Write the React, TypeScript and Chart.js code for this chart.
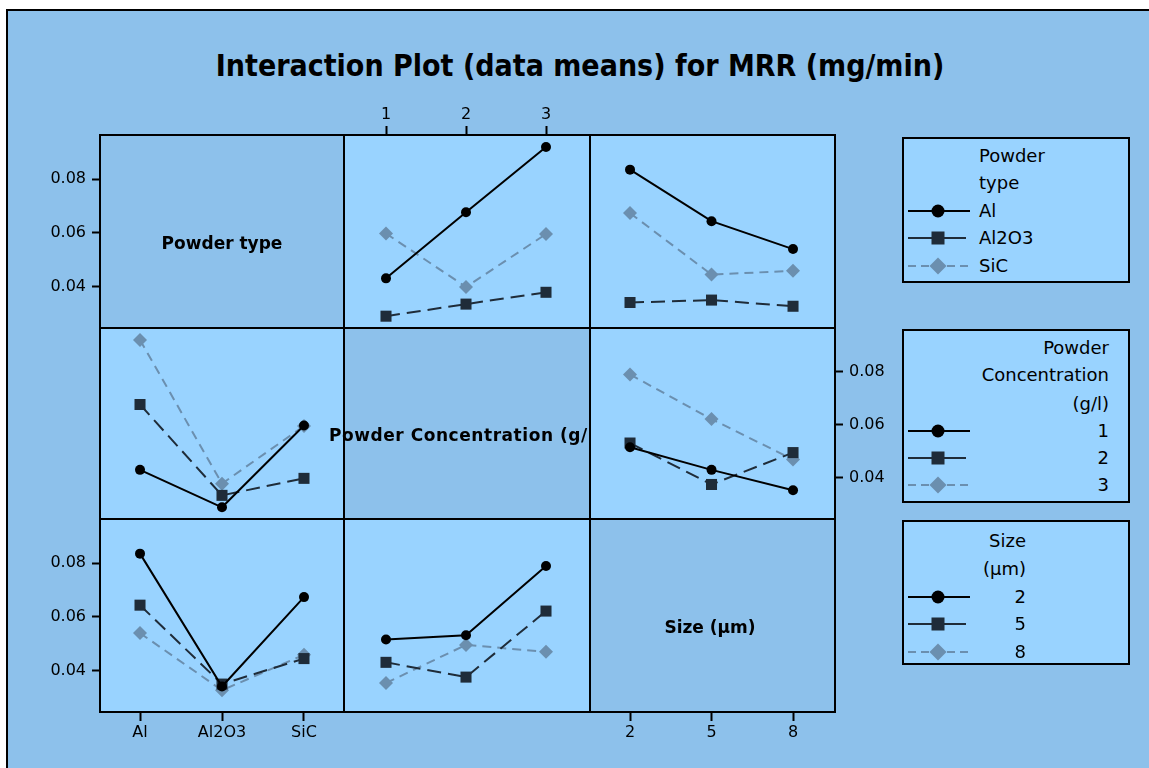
import React, { useEffect, useRef } from 'react';
import { Chart, registerables } from 'chart.js';

Chart.register(...registerables);

// ---------------- data ----------------
const powderTypes = ['Al', 'Al2O3', 'SiC'];
const concentrations = ['1', '2', '3'];
const sizes = ['2', '5', '8'];

const yTickValues = [0.04, 0.06, 0.08];
const yTickLabels = ['0.04', '0.06', '0.08'];
const yMin = 0.0245;
const yMax = 0.0964;

// mean MRR: powder type x concentration (1, 2, 3 g/l)
const alByConc = [0.043, 0.0676, 0.0919];
const al2o3ByConc = [0.0289, 0.0334, 0.0378];
const sicByConc = [0.0597, 0.0398, 0.0595];

// mean MRR: powder type x size (2, 5, 8 µm)
const alBySize = [0.0835, 0.0643, 0.0539];
const al2o3BySize = [0.034, 0.0349, 0.0326];
const sicBySize = [0.0673, 0.0444, 0.0458];

// mean MRR: concentration x size (2, 5, 8 µm)
const conc1BySize = [0.0515, 0.043, 0.0353];
const conc2BySize = [0.0531, 0.0375, 0.0495];
const conc3BySize = [0.0789, 0.0621, 0.0469];

const factorNames = ['Powder type', 'Powder Concentration (g/l)', 'Size (µm)'];
const titleText = 'Interaction Plot (data means) for MRR (mg/min)';

// derived tables (transposes)
const col = (rows: number[][], j: number) => rows.map((r) => r[j]);
const typeConc = [alByConc, al2o3ByConc, sicByConc];
const typeSize = [alBySize, al2o3BySize, sicBySize];
const concSize = [conc1BySize, conc2BySize, conc3BySize];
const concByType = [0, 1, 2].map((j) => col(typeConc, j));
const sizeByType = [0, 1, 2].map((j) => col(typeSize, j));
const sizeByConc = [0, 1, 2].map((j) => col(concSize, j));

// ---------------- styles ----------------
const FONT = '"DejaVu Sans", Verdana, sans-serif';
const TITLE_FONT = '"DejaVu Sans Condensed", "DejaVu Sans", Verdana, sans-serif';
const BG = '#8DC1EB';
const PANEL = '#99D3FF';
const seriesStyle = [
  { color: '#000000', dash: [] as number[], pointStyle: 'circle', radius: 5 },
  { color: '#1F2C39', dash: [14, 7], pointStyle: 'rect', radius: 7.8 },
  { color: '#6B8FAF', dash: [9, 6], pointStyle: 'rectRot', radius: 7 },
];

const GX = [100, 344, 590, 835];
const GY = [135, 328, 519, 712];
// x-range (in level-index units) of each panel column
const colRange = [
  [-0.488, 2.488],
  [-0.525, 2.55],
  [-0.491, 2.515],
];
const AXW = 60;
const TOPH = 33;
const BOTH = 40;

type PanelDef = {
  key: string;
  r: number;
  c: number;
  labels: string[];
  series: number[][];
  x?: 'top' | 'bottom';
  y?: 'left' | 'right';
};

const panels: PanelDef[] = [
  { key: 'r1c1', r: 0, c: 0, labels: concentrations, series: [], y: 'left' },
  { key: 'r1c2', r: 0, c: 1, labels: concentrations, series: typeConc, x: 'top' },
  { key: 'r1c3', r: 0, c: 2, labels: sizes, series: typeSize },
  { key: 'r2c1', r: 1, c: 0, labels: powderTypes, series: concByType },
  { key: 'r2c3', r: 1, c: 2, labels: sizes, series: concSize, y: 'right' },
  { key: 'r3c1', r: 2, c: 0, labels: powderTypes, series: sizeByType, y: 'left', x: 'bottom' },
  { key: 'r3c2', r: 2, c: 1, labels: concentrations, series: sizeByConc },
  { key: 'r3c3', r: 2, c: 2, labels: sizes, series: [], x: 'bottom' },
];

function PanelChart({ p }: { p: PanelDef }) {
  const ref = useRef<HTMLCanvasElement>(null);
  const left = GX[p.c] - (p.y === 'left' ? AXW : 0);
  const top = GY[p.r] - (p.x === 'top' ? TOPH : 0);
  const width = GX[p.c + 1] - GX[p.c] + (p.y ? AXW : 0);
  const height = GY[p.r + 1] - GY[p.r] + (p.x === 'top' ? TOPH : p.x === 'bottom' ? BOTH : 0);

  useEffect(() => {
    const canvas = ref.current;
    if (!canvas) return;
    const tickFont = { family: FONT, size: 16 };
    const chart = new Chart(canvas, {
      type: 'line',
      data: {
        datasets: p.series.map((d, i) => ({
          data: d.map((v, j) => ({ x: j, y: v })),
          borderColor: seriesStyle[i].color,
          backgroundColor: seriesStyle[i].color,
          borderDash: seriesStyle[i].dash,
          borderWidth: 2,
          pointStyle: seriesStyle[i].pointStyle as any,
          pointRadius: seriesStyle[i].radius,
          pointBackgroundColor: seriesStyle[i].color,
          pointBorderColor: seriesStyle[i].color,
          pointBorderWidth: 0,
          tension: 0,
          fill: false,
          clip: false,
        })),
      },
      options: {
        responsive: false,
        animation: false,
        events: [],
        layout: { padding: 0, autoPadding: false },
        plugins: {
          legend: { display: false },
          tooltip: { enabled: false },
          title: { display: false },
        },
        scales: {
          x: {
            type: 'linear',
            min: colRange[p.c][0],
            max: colRange[p.c][1],
            display: !!p.x,
            position: p.x || 'bottom',
            afterBuildTicks: (s: any) => {
              s.ticks = p.labels.map((_l, j) => ({ value: j }));
            },
            afterFit: (s: any) => {
              if (!p.x) return;
              s.height = p.x === 'top' ? TOPH : BOTH;
              s.paddingLeft = 0;
              s.paddingRight = 0;
            },
            ticks: {
              autoSkip: false,
              maxRotation: 0,
              minRotation: 0,
              padding: 2,
              color: '#000',
              font: tickFont,
              callback: (_v: any, i: number) => p.labels[i],
            },
            grid: {
              display: true,
              drawOnChartArea: false,
              drawTicks: true,
              tickLength: 9,
              tickWidth: 2,
              tickColor: '#000',
              color: '#000',
            },
            border: { display: false },
          },
          y: {
            type: 'linear',
            min: yMin,
            max: yMax,
            display: !!p.y,
            position: p.y || 'left',
            afterBuildTicks: (s: any) => {
              s.ticks = yTickValues.map((v) => ({ value: v }));
            },
            afterFit: (s: any) => {
              if (!p.y) return;
              s.width = AXW;
              s.paddingTop = 0;
              s.paddingBottom = 0;
            },
            ticks: {
              autoSkip: false,
              padding: 6,
              color: '#000',
              font: tickFont,
              callback: (_v: any, i: number) => yTickLabels[i],
            },
            grid: {
              display: true,
              drawOnChartArea: false,
              drawTicks: true,
              tickLength: 8,
              tickWidth: 2,
              tickColor: '#000',
              color: '#000',
            },
            border: { display: false },
          },
        },
      } as any,
    });
    return () => chart.destroy();
  }, []);

  return (
    <canvas
      ref={ref}
      width={width}
      height={height}
      style={{ position: 'absolute', left, top, width, height }}
    />
  );
}

function Txt(props: {
  x: number;
  y: number;
  align?: 'left' | 'center' | 'right';
  bold?: boolean;
  size: number;
  ls?: number;
  family?: string;
  children: React.ReactNode;
}) {
  const { x, y, align = 'left', bold, size, ls, family, children } = props;
  const tx = align === 'center' ? '-50%' : align === 'right' ? '-100%' : '0';
  return (
    <div
      style={{
        position: 'absolute',
        left: x,
        top: y,
        transform: `translate(${tx},-50%)`,
        whiteSpace: 'nowrap',
        font: `${bold ? 'bold ' : ''}${size}px ${family || FONT}`,
        lineHeight: 1,
        color: '#000',
        letterSpacing: ls ? `${ls}px` : undefined,
      }}
    >
      {children}
    </div>
  );
}

function LegendSymbol({ idx, cy }: { idx: number; cy: number }) {
  const s = seriesStyle[idx];
  let marker: React.ReactNode;
  if (s.pointStyle === 'circle') marker = <circle cx={34} cy={10} r={6.5} fill={s.color} />;
  else if (s.pointStyle === 'rect') marker = <rect x={27.5} y={3.5} width={13} height={13} fill={s.color} />;
  else marker = <polygon points="34,1.5 42.5,10 34,18.5 25.5,10" fill={s.color} />;
  return (
    <svg width={70} height={20} style={{ position: 'absolute', left: 904, top: cy - 10 }}>
      <line
        x1={4}
        y1={10}
        x2={idx === 1 ? 62 : 66}
        y2={10}
        stroke={s.color}
        strokeWidth={2}
        strokeDasharray={idx === 2 ? '8 5' : undefined}
      />
      {marker}
    </svg>
  );
}

function LegendBox(props: {
  top: number;
  height: number;
  titleLines: string[];
  titleYs: number[];
  items: string[];
  itemYs: number[];
  textX: number;
  align: 'left' | 'right';
}) {
  const { top, height, titleLines, titleYs, items, itemYs, textX, align } = props;
  return (
    <>
      <div
        style={{
          position: 'absolute',
          left: 902,
          top,
          width: 228,
          height,
          boxSizing: 'border-box',
          border: '2px solid #000',
          background: PANEL,
        }}
      />
      {titleLines.map((t, i) => (
        <Txt key={'t' + i} x={textX} y={titleYs[i]} align={align} size={18}>
          {t}
        </Txt>
      ))}
      {items.map((t, i) => (
        <React.Fragment key={'i' + i}>
          <LegendSymbol idx={i} cy={itemYs[i]} />
          <Txt x={textX} y={itemYs[i]} align={align} size={18}>
            {t}
          </Txt>
        </React.Fragment>
      ))}
    </>
  );
}

export default function App() {
  const cells: React.ReactNode[] = [];
  for (let r = 0; r < 3; r++) {
    for (let c = 0; c < 3; c++) {
      cells.push(
        <div
          key={`cell${r}${c}`}
          style={{
            position: 'absolute',
            left: GX[c],
            top: GY[r],
            width: GX[c + 1] - GX[c],
            height: GY[r + 1] - GY[r],
            background: r === c ? BG : PANEL,
          }}
        />
      );
    }
  }
  const lines: React.ReactNode[] = [];
  GX.forEach((x, i) =>
    lines.push(
      <div
        key={'vx' + i}
        style={{ position: 'absolute', left: x - 1, top: GY[0] - 1, width: 2, height: GY[3] - GY[0] + 2, background: '#000' }}
      />
    )
  );
  GY.forEach((y, i) =>
    lines.push(
      <div
        key={'hy' + i}
        style={{ position: 'absolute', left: GX[0] - 1, top: y - 1, width: GX[3] - GX[0] + 2, height: 2, background: '#000' }}
      />
    )
  );

  return (
    <div
      style={{
        position: 'fixed',
        left: 0,
        top: 0,
        width: 1149,
        height: 768,
        background: '#fff',
        overflow: 'hidden',
      }}
    >
      <div
        style={{
          position: 'absolute',
          left: 6,
          top: 9,
          width: 1160,
          height: 780,
          background: BG,
          borderLeft: '2px solid #000',
          borderTop: '2px solid #000',
        }}
      />
      <Txt x={580} y={66} align="center" bold size={30} family={TITLE_FONT}>
        {titleText}
      </Txt>
      {cells}
      {panels.map((p) => (
        <PanelChart key={p.key} p={p} />
      ))}
      <Txt x={222} y={243} align="center" bold size={17}>
        {factorNames[0]}
      </Txt>
      <div style={{ position: 'absolute', left: 0, top: 0, width: GX[2] - 1, height: 768, overflow: 'hidden' }}>
        <Txt x={329} y={435} align="left" bold size={17} ls={0.55}>
          {factorNames[1]}
        </Txt>
      </div>
      <Txt x={710} y={627} align="center" bold size={17}>
        {factorNames[2]}
      </Txt>
      {lines}
      <LegendBox
        top={137}
        height={146}
        titleLines={['Powder', 'type']}
        titleYs={[156, 183]}
        items={powderTypes}
        itemYs={[211, 238, 266]}
        textX={979}
        align="left"
      />
      <LegendBox
        top={329}
        height={174}
        titleLines={['Powder', 'Concentration', '(g/l)']}
        titleYs={[348, 375, 404]}
        items={concentrations}
        itemYs={[431, 458, 485]}
        textX={1109}
        align="right"
      />
      <LegendBox
        top={520}
        height={145}
        titleLines={['Size', '(µm)']}
        titleYs={[541, 569]}
        items={sizes}
        itemYs={[597, 624, 652]}
        textX={1026}
        align="right"
      />
    </div>
  );
}
